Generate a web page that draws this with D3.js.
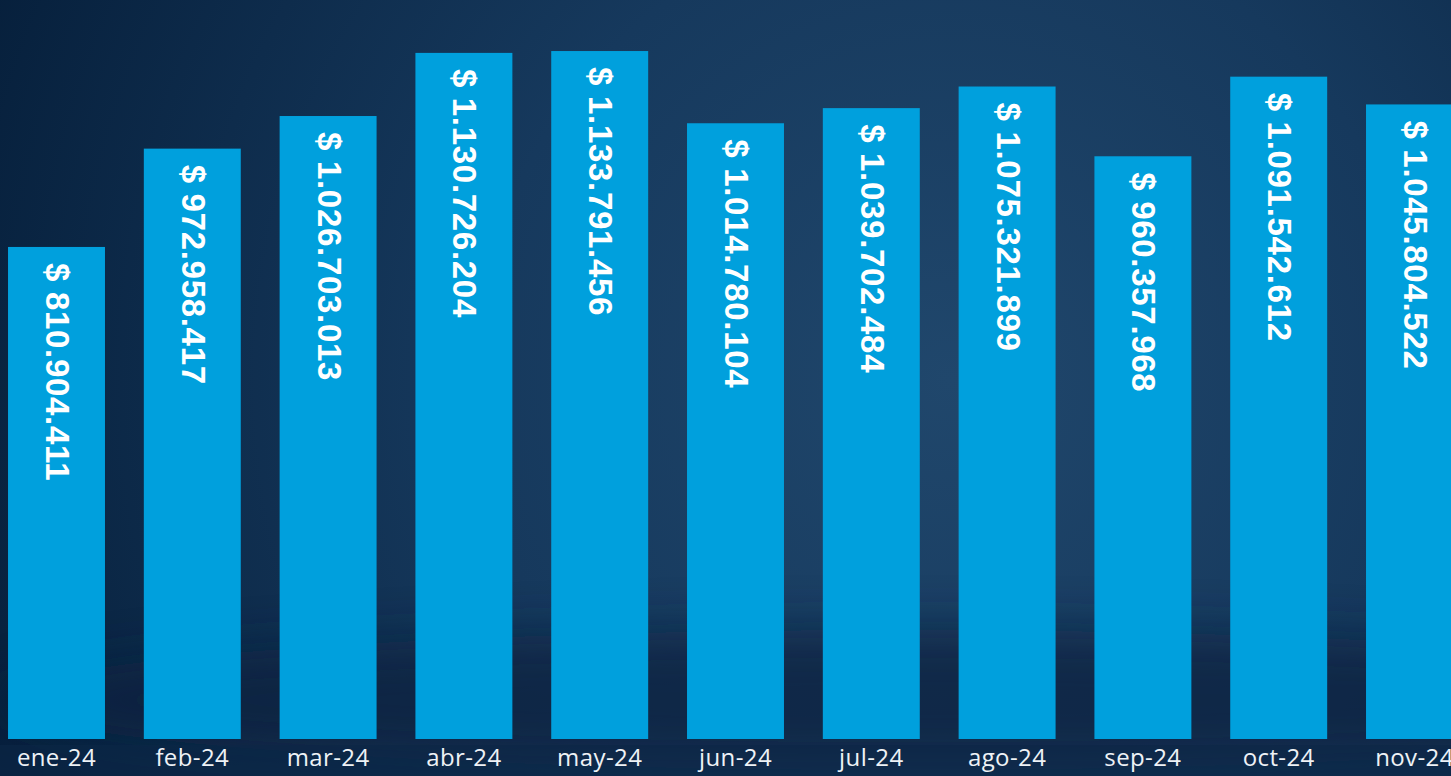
<!DOCTYPE html>
<html>
<head>
<meta charset="utf-8">
<script src="https://cdn.jsdelivr.net/npm/d3@7"></script>
<style>
  html, body { margin: 0; padding: 0; background: #0a2542; overflow: hidden; }
</style>
</head>
<body>
<div id="chart"></div>
<script>
// monthly totals
var months = ["ene-24", "feb-24", "mar-24", "abr-24", "may-24", "jun-24",
              "jul-24", "ago-24", "sep-24", "oct-24", "nov-24"];
var totals = [810904411, 972958417, 1026703013, 1130726204, 1133791456, 1014780104,
              1039702484, 1075321899, 960357968, 1091542612, 1045804522];
var labels = ["$ 810.904.411", "$ 972.958.417", "$ 1.026.703.013", "$ 1.130.726.204",
              "$ 1.133.791.456", "$ 1.014.780.104", "$ 1.039.702.484", "$ 1.075.321.899",
              "$ 960.357.968", "$ 1.091.542.612", "$ 1.045.804.522"];

var width = 1451, height = 776,
    base = 739, barColor = "#00a0dd";

var svg = d3.select("#chart").append("svg")
    .attr("width", width)
    .attr("height", height);

var defs = svg.append("defs");
var bg = defs.append("radialGradient")
    .attr("id", "bg")
    .attr("gradientUnits", "userSpaceOnUse")
    .attr("cx", 950).attr("cy", 380).attr("r", 1050);
bg.append("stop").attr("offset", "0%").attr("stop-color", "#20476c");
bg.append("stop").attr("offset", "45%").attr("stop-color", "#16395d");
bg.append("stop").attr("offset", "100%").attr("stop-color", "#061f3b");

defs.append("filter").attr("id", "blur")
    .attr("x", "-20%").attr("y", "-50%").attr("width", "140%").attr("height", "200%")
  .append("feGaussianBlur").attr("stdDeviation", 25);

svg.append("rect")
    .attr("width", width).attr("height", height)
    .attr("fill", "url(#bg)");

// darker swoosh near the bottom
svg.append("ellipse")
    .attr("cx", 900).attr("cy", 700)
    .attr("rx", 900).attr("ry", 70)
    .attr("fill", "#0b2340")
    .attr("opacity", 0.75)
    .attr("filter", "url(#blur)");
svg.append("rect")
    .attr("x", 0).attr("y", 745).attr("width", width).attr("height", 31)
    .attr("fill", "#0c2746").attr("opacity", 0.6);

var x = d3.scaleBand()
    .domain(months)
    .range([-11.4, -11.4 + 11 * 135.8])
    .paddingInner(0.286)
    .paddingOuter(0.143);

var y = d3.scaleLinear()
    .domain([0, 1217.9e6])
    .range([base, 0]);

var data = months.map(function(m, i){
  return {month: m, value: totals[i], label: labels[i]};
});

svg.selectAll("rect.bar")
    .data(data)
    .join("rect")
    .attr("class", "bar")
    .attr("x", d => x(d.month))
    .attr("y", d => y(d.value))
    .attr("width", x.bandwidth())
    .attr("height", d => base - y(d.value))
    .attr("fill", barColor);

svg.selectAll("text.val")
    .data(data)
    .join("text")
    .attr("class", "val")
    .attr("transform", d => "translate(" + (x(d.month) + x.bandwidth() / 2 + 1) + "," + (y(d.value) + 16) + ") rotate(90)")
    .attr("dominant-baseline", "central")
    .attr("fill", "#ffffff")
    .style("font-family", "'Liberation Sans', Arial, sans-serif")
    .style("font-weight", "bold")
    .style("font-size", "33px")
    .style("letter-spacing", "0.7px")
    .text(d => d.label);

var xAxis = svg.append("g")
    .attr("transform", "translate(0," + base + ")")
    .call(d3.axisBottom(x).tickSize(0).tickPadding(10));
xAxis.select(".domain").remove();
xAxis.selectAll("text")
    .attr("fill", "#eef2f6")
    .style("font-family", "'Open Sans', 'Noto Sans', sans-serif")
    .style("font-size", "24px")
    .style("letter-spacing", "0.4px");
</script>
</body>
</html>
